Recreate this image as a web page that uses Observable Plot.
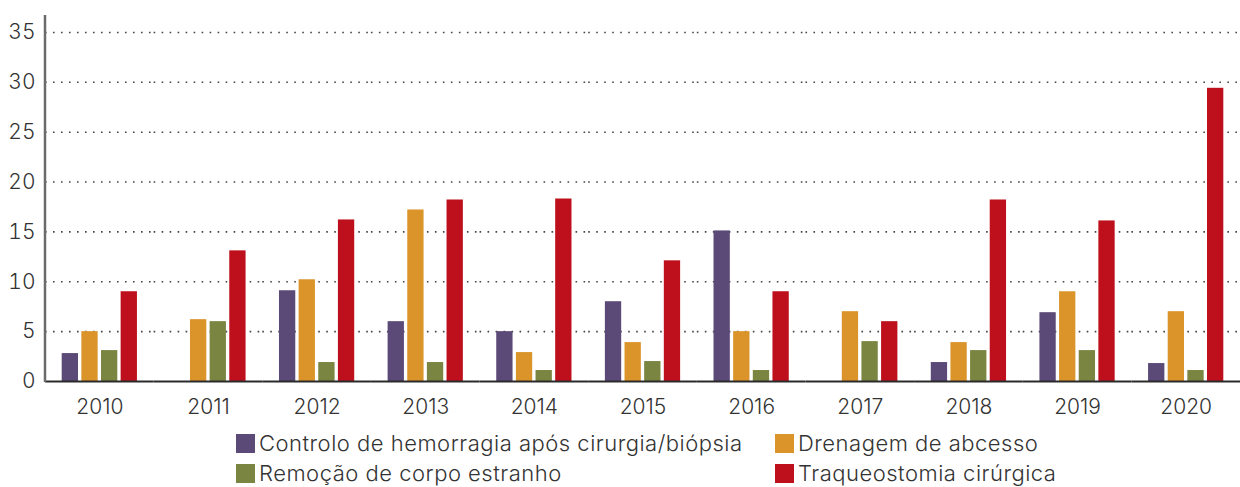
<!DOCTYPE html>
<html><head><meta charset="utf-8">
<script src="https://cdn.jsdelivr.net/npm/d3@7"></script>
<script src="https://cdn.jsdelivr.net/npm/@observablehq/plot@0.6"></script>
<style>
body{margin:0;background:#fff;font-family:Inter,"Open Sans",sans-serif;}
#wrap{position:relative;width:1240px;height:487px;}
#chart svg text{font-weight:300;}
.leg{position:absolute;display:flex;align-items:center;font-size:22px;letter-spacing:0.5px;color:#333;font-weight:300;white-space:nowrap;line-height:19px;height:19px;}
.sw{width:19px;height:19px;margin-right:4px;flex:none;}
</style></head><body>
<div id="wrap"><div id="chart"></div></div>
<script>
const years = ["2010","2011","2012","2013","2014","2015","2016","2017","2018","2019","2020"];
const seriesNames = ["Controlo de hemorragia após cirurgia/biópsia","Drenagem de abcesso","Remoção de corpo estranho","Traqueostomia cirúrgica"];
const controlo = [2.8, null, 9.1, 6.0, 5.0, 8.0, 15.1, null, 1.9, 6.9, 1.8];
const drenagem = [5.0, 6.2, 10.2, 17.2, 2.9, 3.9, 5.0, 7.0, 3.9, 9.0, 7.0];
const remocao  = [3.1, 6.0, 1.9, 1.9, 1.1, 2.0, 1.1, 4.0, 3.1, 3.1, 1.1];
const traqueo  = [9.0, 13.1, 16.2, 18.2, 18.3, 12.1, 9.0, 6.0, 18.2, 16.1, 29.4];
const yTicks = [0,5,10,15,20,25,30,35];
const colors = ["#5b4977","#da9429","#798540","#be101c"];

const valuesBySeries = [controlo, drenagem, remocao, traqueo];
const rows = [];
years.forEach((yr,i)=>{ seriesNames.forEach((s,j)=>{ rows.push({year:yr, series:s, value:valuesBySeries[j][i]}); }); });

const chart = Plot.plot({
  width:1240, height:425,
  marginLeft:45, marginRight:0, marginTop:15, marginBottom:44,
  style:{fontFamily:"Inter, 'Open Sans', sans-serif", fontSize:"21px", color:"#333", background:"#fff", overflow:"visible"},
  facet:{data:rows, x:"year"},
  fx:{domain:years, padding:0, round:false, label:null, tickSize:0, tickPadding:18, axis:"bottom"},
  x:{domain:seriesNames, axis:null, round:false, paddingInner:0.17, paddingOuter:0.85},
  y:{domain:[0,36.7], ticks:yTicks, tickSize:0, tickPadding:10, label:null},
  color:{domain:seriesNames, range:colors},
  marks:[
    Plot.ruleY(yTicks.filter(t=>t>0), {stroke:"#444", strokeWidth:1.6, strokeDasharray:"1.6,6.4"}),
    Plot.barY(rows, {x:"series", y:"value", fill:"series"}),
    Plot.ruleY([0], {stroke:"#2a2a2a", strokeWidth:2})
  ]
});
const ys = chart.scale("y");
d3.select(chart).append("line")
  .attr("x1",45).attr("x2",45)
  .attr("y1", ys.apply(36.7)).attr("y2", ys.apply(0)+1)
  .attr("stroke","#6b6b6b").attr("stroke-width",2.5);
document.getElementById("chart").appendChild(chart);

// legend
const legPos = [[236,434],[775,434],[236,464],[775,464]];
const wrap = document.getElementById("wrap");
seriesNames.forEach((s,i)=>{
  const d = document.createElement("div");
  d.className = "leg";
  d.style.left = legPos[i][0]+"px";
  d.style.top = legPos[i][1]+"px";
  const sw = document.createElement("span");
  sw.className = "sw"; sw.style.background = colors[i];
  const t = document.createElement("span");
  t.textContent = s;
  d.appendChild(sw); d.appendChild(t);
  wrap.appendChild(d);
});
</script>
</body></html>
